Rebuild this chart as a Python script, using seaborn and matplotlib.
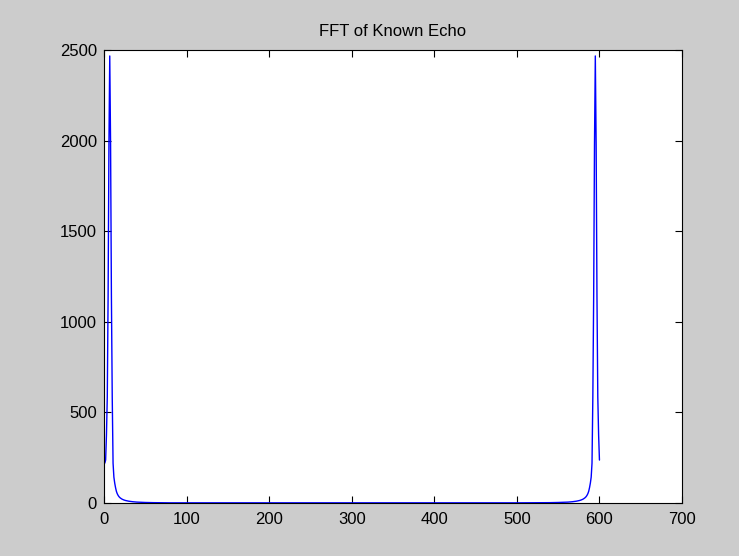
import matplotlib
matplotlib.use("Agg")
import matplotlib.pyplot as plt
import seaborn as sns
import pandas as pd

# FFT magnitude samples (bin index, |X|) for the low-frequency side
left_bins = [1, 2, 3, 4, 5, 6, 7, 8, 9, 10, 11, 12, 13, 14, 15, 16, 17, 18, 19, 20,
             22, 24, 26, 28, 30, 35, 40, 50, 60, 80, 100]
left_mag = [220, 237, 375, 585, 1140, 1976, 2467, 1976, 1140, 585, 220, 143, 110, 85, 65, 52, 43, 36, 31, 27,
            21, 17, 14, 12, 10, 7, 5, 3, 2, 1, 1]

# Flat middle of the spectrum
mid_bins = [150, 200, 250, 300, 350, 400, 450, 500]
mid_mag = [1, 1, 1, 1, 1, 1, 1, 1]

# Mirrored high-frequency side
right_bins = [540, 550, 562, 567, 572, 574, 576, 578, 580, 582, 583, 584, 585, 586, 587, 588, 589, 590,
              591, 592, 593, 594, 595, 596, 597, 598, 599, 600]
right_mag = [2, 3, 5, 7, 10, 12, 14, 17, 21, 27, 31, 36, 43, 52, 65, 85, 110, 143,
             220, 585, 1140, 1976, 2467, 1976, 1140, 585, 375, 237]

df = pd.DataFrame({
    "bin": left_bins + mid_bins + right_bins,
    "mag": left_mag + mid_mag + right_mag,
})

x_ticks = [0, 100, 200, 300, 400, 500, 600, 700]
y_ticks = [0, 500, 1000, 1500, 2000, 2500]

sns.set_theme(style="white")
plt.rcParams["font.family"] = ["Liberation Sans", "DejaVu Sans"]
plt.rcParams["text.color"] = "black"

fig = plt.figure(figsize=(7.39, 5.56), dpi=100, facecolor="#cccccc")
ax = fig.add_axes([0.1407, 0.0953, 0.7822, 0.8148])
ax.set_facecolor("white")

sns.lineplot(data=df, x="bin", y="mag", ax=ax, color="#0000ff", linewidth=1.0,
             sort=False, estimator=None)

ax.set_xlim(0, 700)
ax.set_ylim(0, 2500)
ax.set_xticks(x_ticks)
ax.set_yticks(y_ticks)
ax.set_xticklabels([str(v) for v in x_ticks])
ax.set_yticklabels([str(v) for v in y_ticks])
ax.set_xlabel("")
ax.set_ylabel("")
ax.set_title("FFT of Known Echo", fontsize=12, pad=10, color="black")

for s in ax.spines.values():
    s.set_visible(True)
    s.set_color("black")
    s.set_linewidth(0.8)

ax.tick_params(axis="both", which="both", direction="in", length=5, width=0.8,
               colors="black", labelsize=12, top=True, right=True,
               bottom=True, left=True, labeltop=False, labelright=False)
ax.tick_params(axis="x", pad=6.5)
ax.tick_params(axis="y", pad=5)

fig.savefig("out.png", dpi=100, facecolor=fig.get_facecolor())
